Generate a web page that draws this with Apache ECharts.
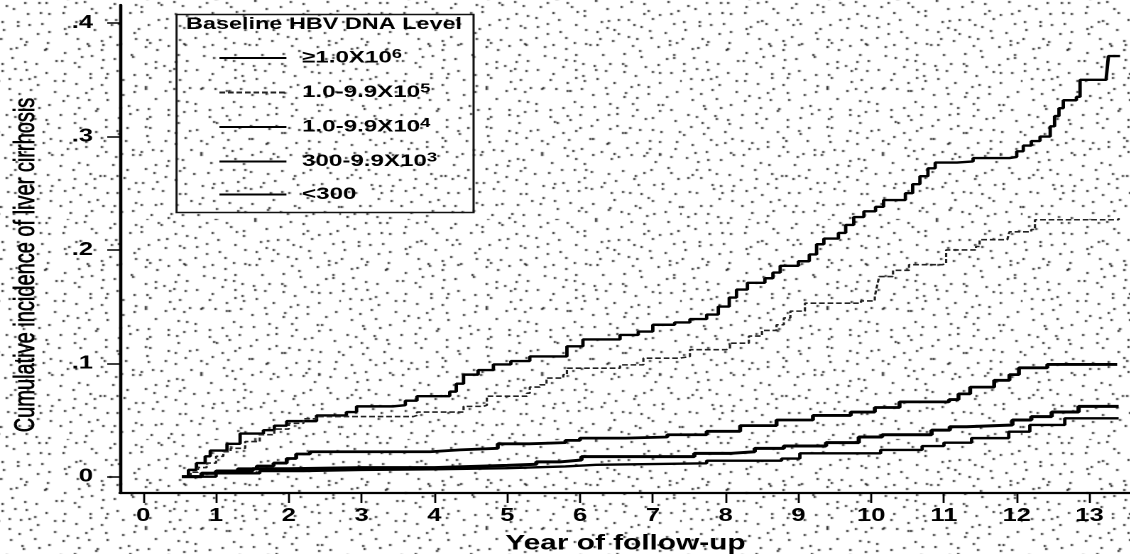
<!DOCTYPE html>
<html>
<head>
<meta charset="utf-8">
<script src="https://cdn.jsdelivr.net/npm/echarts@6/dist/echarts.min.js"></script>
<style>
html, body { margin: 0; padding: 0; background: #fff; overflow: hidden; }
#chart { height: 554px; transform-origin: 0 0; }
</style>
</head>
<body>
<div id="chart"></div>
<script>
// the source figure was scanned and stretched sideways, so we draw it narrow
// and widen the whole box with CSS -- glyphs and strokes then look the same.
const STRETCH = 1.42;
const PAGE_W = 1131, PAGE_H = 554;

const yearTicks = [0, 1, 2, 3, 4, 5, 6, 7, 8, 9, 10, 11, 12, 13];
const cumTicks = [0, 0.1, 0.2, 0.3, 0.4];

// legend labels, "^" marks the exponent
const levelNames = ['≥1.0X10^6', '1.0-9.9X10^5', '1.0-9.9X10^4', '300-9.9X10^3', '<300'];

// [year, cumulative incidence]
const hbvGe1e6 = [[0.53,0],[0.62,0.006],[0.73,0.012],[0.85,0.018],[0.92,0.023],[1.15,0.029],[1.33,0.038],
  [1.65,0.041],[1.8,0.045],[1.97,0.049],[2.38,0.054],[2.79,0.057],[2.93,0.062],[3.43,0.063],[3.6,0.067],
  [3.76,0.071],[4.21,0.075],[4.3,0.082],[4.4,0.09],[4.6,0.094],[4.81,0.099],[5.05,0.102],[5.31,0.106],
  [5.63,0.106],[5.82,0.115],[6.04,0.121],[6.5,0.121],[6.55,0.125],[6.8,0.128],[7.0,0.134],[7.3,0.136],
  [7.51,0.139],[7.74,0.143],[7.9,0.15],[8.05,0.158],[8.15,0.165],[8.3,0.171],[8.54,0.175],[8.65,0.18],
  [8.75,0.186],[9.0,0.19],[9.15,0.196],[9.25,0.205],[9.35,0.21],[9.55,0.215],[9.65,0.222],[9.76,0.229],
  [9.9,0.234],[10.06,0.238],[10.17,0.244],[10.47,0.25],[10.57,0.258],[10.67,0.265],[10.78,0.272],
  [10.88,0.277],[11.18,0.278],[11.4,0.281],[11.9,0.282],[12.0,0.287],[12.09,0.292],[12.2,0.296],
  [12.32,0.3],[12.46,0.309],[12.52,0.318],[12.58,0.325],[12.64,0.332],[12.82,0.335],[12.87,0.35],
  [13.23,0.352],[13.26,0.371],[13.42,0.371]];
const hbv1e5 = [[0.53,0],[0.65,0.004],[0.75,0.008],[0.87,0.012],[1.0,0.018],[1.1,0.022],[1.2,0.025],
  [1.4,0.031],[1.6,0.037],[1.8,0.042],[2.0,0.047],[2.2,0.051],[2.38,0.053],[3.71,0.054],[3.76,0.057],
  [4.35,0.057],[4.4,0.062],[4.67,0.063],[4.72,0.071],[5.27,0.0736],[5.31,0.079],[5.45,0.081],[5.54,0.087],
  [5.77,0.09],[5.82,0.0957],[6.55,0.0986],[6.87,0.1045],[7.37,0.106],[7.51,0.112],[8.01,0.113],
  [8.06,0.1177],[8.32,0.124],[8.5,0.129],[8.7,0.134],[8.8,0.14],[8.89,0.146],[9.09,0.153],[9.86,0.155],
  [10.05,0.159],[10.08,0.168],[10.11,0.1765],[10.3,0.182],[10.52,0.187],[10.98,0.188],[11.03,0.2],
  [11.44,0.203],[11.49,0.209],[11.87,0.209],[11.9,0.216],[12.2,0.218],[12.25,0.2266],[13.4,0.228]];
const hbv1e4 = [[0.53,0],[0.8,0.003],[1.0,0.005],[1.3,0.007],[1.56,0.0094],[1.79,0.012],[1.97,0.016],
  [2.1,0.02],[2.29,0.022],[3.85,0.022],[3.94,0.0236],[4.35,0.025],[4.87,0.029],[5.3,0.03],[5.8,0.032],
  [6.0,0.034],[6.63,0.035],[7.2,0.037],[7.74,0.04],[8.2,0.045],[8.7,0.05],[9.2,0.054],[9.72,0.057],
  [10.05,0.061],[10.39,0.066],[11.07,0.068],[11.2,0.073],[11.36,0.079],[11.69,0.085],[11.9,0.09],
  [12.03,0.096],[12.42,0.099],[13.38,0.099]];
const hbv3e3 = [[0.53,0],[0.8,0.003],[1.0,0.005],[1.5,0.007],[2.0,0.008],[3.0,0.008],[4.0,0.009],
  [4.5,0.01],[5.0,0.011],[5.4,0.013],[5.72,0.0147],[6.02,0.0177],[7.57,0.0206],[8.08,0.022],[8.4,0.025],
  [8.8,0.027],[9.38,0.03],[9.83,0.035],[10.15,0.037],[10.83,0.041],[11.08,0.044],[11.31,0.0456],
  [11.94,0.05],[12.2,0.053],[12.48,0.057],[12.85,0.062],[13.4,0.062]];
const hbvLt300 = [[0.53,0],[1.0,0.003],[1.6,0.005],[2.2,0.006],[3.0,0.0065],[4.0,0.0075],[5.0,0.009],
  [5.8,0.0105],[6.22,0.0118],[7.74,0.0141],[8.77,0.016],[9.02,0.0206],[10.13,0.0236],[10.7,0.027],
  [11.0,0.03],[11.38,0.034],[11.89,0.0397],[12.18,0.0456],[12.66,0.0515],[13.4,0.0515]];

const curves = [hbvGe1e6, hbv1e5, hbv1e4, hbv3e3, hbvLt300];
const lineWidths = [2.4, 1.6, 2.8, 3, 2.4];
const lineTypes = ['solid', [4, 2], 'solid', 'solid', 'solid'];

const FONT = '"Liberation Sans", Arial, Helvetica, sans-serif';

// 32-bit integer mixer (murmur3 finaliser), used to jitter the stipple dots
function mix(n) {
    n = Math.imul(n ^ (n >>> 16), 0x85EBCA6B);
    n = Math.imul(n ^ (n >>> 13), 0xC2B2AE35);
    return (n ^ (n >>> 16)) >>> 0;
}

// stipple tile: one dot per cell, jittered
function stippleTile() {
    const cw = 8, ch = 11, nx = 30, ny = 20;
    const c = document.createElement('canvas');
    c.width = cw * nx; c.height = ch * ny;
    const ctx = c.getContext('2d');
    ctx.fillStyle = '#fff';
    ctx.fillRect(0, 0, c.width, c.height);
    ctx.fillStyle = '#222';
    for (let i = 0; i < nx; i++) {
        for (let j = 0; j < ny; j++) {
            const h = mix(i * 1000 + j + 12345);
            ctx.fillRect(i * cw + (h % cw), j * ch + ((h >>> 8) % ch), 1.5, 2);
        }
    }
    return c;
}

const el = document.getElementById('chart');
const W = PAGE_W / STRETCH;
el.style.width = W + 'px';
el.style.transform = `scaleX(${STRETCH})`;

const chart = echarts.init(el, null, { renderer: 'canvas', devicePixelRatio: 2, width: W, height: PAGE_H });

const series = curves.map((data, i) => ({
    type: 'line',
    name: levelNames[i],
    data,
    step: 'end',
    symbol: 'none',
    silent: true,
    itemStyle: { color: '#000' },
    lineStyle: { color: i === 1 ? '#222' : '#000', width: lineWidths[i], type: lineTypes[i] },
}));

chart.setOption({
    animation: false,
    backgroundColor: { image: stippleTile(), repeat: 'repeat' },
    grid: { left: 120 / STRETCH, right: 0, top: 5, bottom: 61, outerBoundsMode: 'none' },
    title: {
        text: 'Baseline HBV DNA Level',
        left: 186 / STRETCH, top: 16, padding: 0,
        textStyle: { fontFamily: FONT, fontWeight: 'bold', fontSize: 16.5, color: '#000' },
    },
    legend: {
        orient: 'vertical',
        left: 218 / STRETCH, top: 48, padding: 0,
        itemWidth: 67 / STRETCH, itemHeight: 12, itemGap: 16,
        selectedMode: false,
        itemStyle: { opacity: 0 },
        formatter: name => {
            const [base, exp] = name.split('^');
            return exp ? `{b|${base}}{s|${exp}}` : `{b|${base}}`;
        },
        textStyle: {
            padding: [0, 0, 0, 6],
            rich: {
                b: { fontFamily: FONT, fontWeight: 'bold', fontSize: 17, color: '#000', lineHeight: 20 },
                s: { fontFamily: FONT, fontWeight: 'bold', fontSize: 13, color: '#000', verticalAlign: 'top', lineHeight: 20 },
            },
        },
    },
    graphic: [{
        type: 'rect', left: 173 / STRETCH, top: 12, z: 10, silent: true,
        shape: { width: 297 / STRETCH, height: 198 },
        style: { fill: 'none', stroke: '#111', lineWidth: 1.5 },
    }],
    xAxis: {
        type: 'value', min: -0.32, max: 13.57,
        splitLine: { show: false },
        axisLine: { onZero: false, lineStyle: { color: '#000', width: 2.3 } },
        axisTick: { customValues: yearTicks, length: 10, lineStyle: { color: '#000', width: 1.4 } },
        axisLabel: { customValues: yearTicks, fontFamily: FONT, fontWeight: 'bold', fontSize: 18, color: '#000', margin: 14 },
        name: 'Year of follow-up', nameLocation: 'middle', nameGap: 40,
        nameTextStyle: { fontFamily: FONT, fontWeight: 'bold', fontSize: 21, color: '#000' },
    },
    yAxis: {
        type: 'value', min: -0.0144, max: 0.416,
        splitLine: { show: false },
        axisLine: { show: true, onZero: false, lineStyle: { color: '#000', width: 2.3 } },
        axisTick: { show: true, customValues: cumTicks, length: 9, lineStyle: { color: '#000', width: 1.5 } },
        axisLabel: {
            customValues: cumTicks, fontFamily: FONT, fontWeight: 'bold', fontSize: 18, color: '#000', margin: 19,
            formatter: v => v === 0 ? '0' : String(+v.toFixed(1)).replace(/^0/, ''),
        },
        name: 'Cumulative incidence of liver cirrhosis', nameLocation: 'middle', nameGap: 56, nameRotate: 90,
        nameTextStyle: {
            fontFamily: FONT, fontSize: 20, color: '#000', padding: [0, 32, 0, 0],
            textBorderColor: '#000', textBorderWidth: 0.5,
        },
    },
    series,
});
</script>
</body>
</html>
